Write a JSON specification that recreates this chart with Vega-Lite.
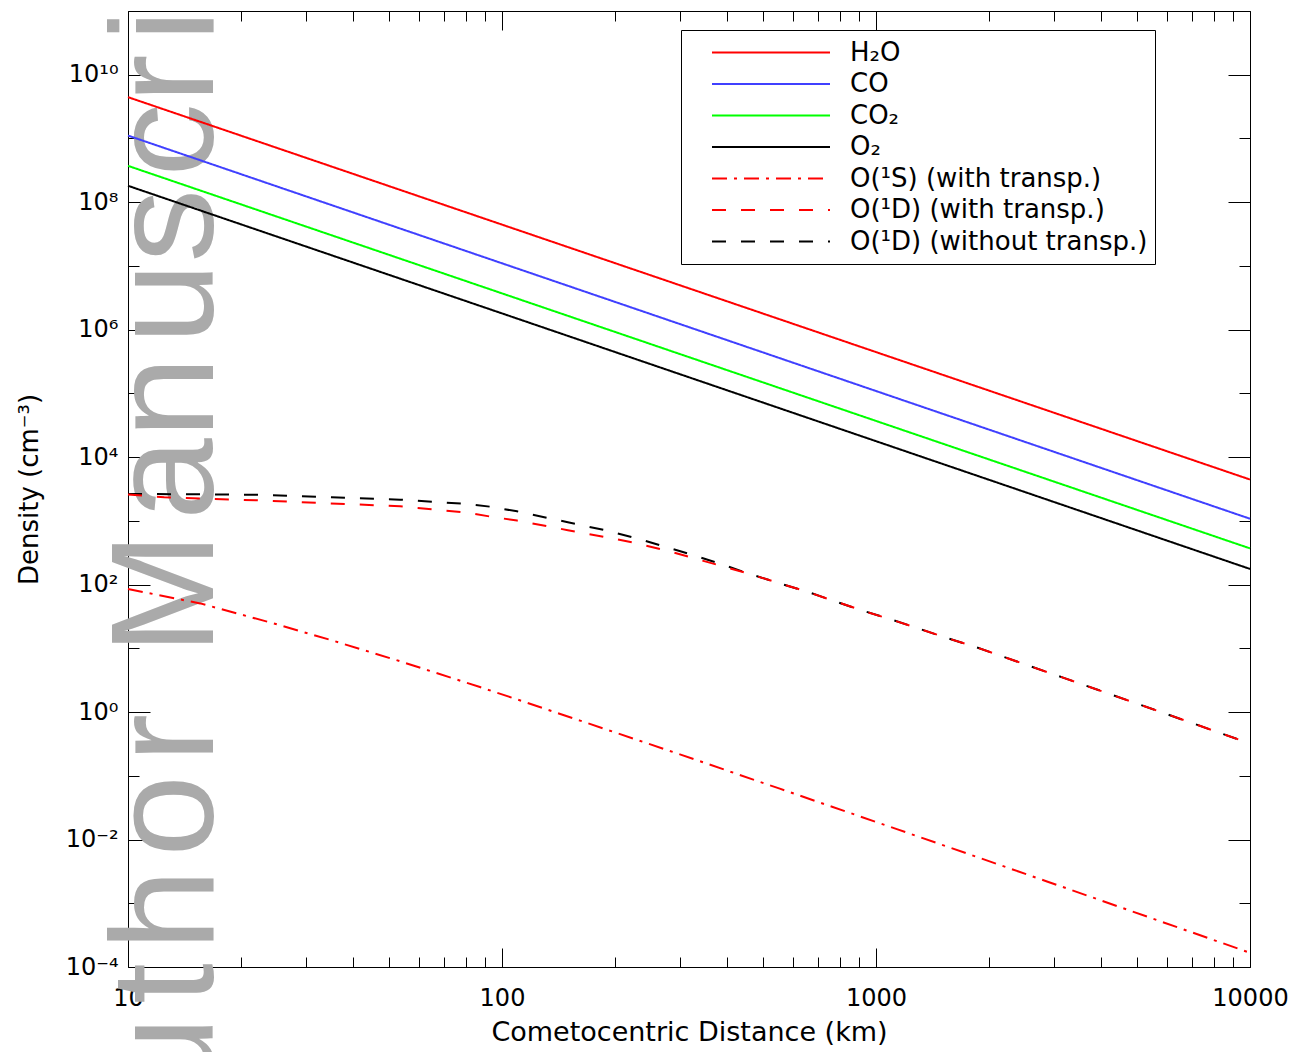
{
  "$schema": "https://vega.github.io/schema/vega-lite/v6.json",
  "width": 1122,
  "height": 956,
  "padding": {"left": 128, "top": 11, "right": 58, "bottom": 85},
  "autosize": {"type": "none"},
  "background": "white",
  "config": {
    "view": {"stroke": null},
    "font": "DejaVu Sans",
    "axis": {
      "grid": false,
      "domainColor": "black",
      "domainWidth": 1,
      "tickColor": "black",
      "tickWidth": 1,
      "labelColor": "black",
      "titleColor": "black",
      "labelFont": "DejaVu Sans",
      "titleFont": "DejaVu Sans",
      "titleFontWeight": "normal",
      "labelFontSize": 24,
      "labelFlush": false,
      "labelOverlap": false,
      "labelBound": false
    }
  },
  "resolve": {"axis": {"x": "independent", "y": "independent"}},
  "data": {
    "values": [
      {"r": 10, "n": 4.45e9, "s": "H₂O"},
      {"r": 100, "n": 4.45e7, "s": "H₂O"},
      {"r": 1000, "n": 4.45e5, "s": "H₂O"},
      {"r": 10000, "n": 4.45e3, "s": "H₂O"},
      {"r": 10, "n": 1.11e9, "s": "CO"},
      {"r": 100, "n": 1.1e7, "s": "CO"},
      {"r": 1000, "n": 1.09e5, "s": "CO"},
      {"r": 10000, "n": 1.08e3, "s": "CO"},
      {"r": 10, "n": 3.72e8, "s": "CO₂"},
      {"r": 100, "n": 3.71e6, "s": "CO₂"},
      {"r": 1000, "n": 3.7e4, "s": "CO₂"},
      {"r": 10000, "n": 3.7e2, "s": "CO₂"},
      {"r": 10, "n": 1.81e8, "s": "O₂"},
      {"r": 100, "n": 1.8e6, "s": "O₂"},
      {"r": 1000, "n": 1.78e4, "s": "O₂"},
      {"r": 10000, "n": 1.76e2, "s": "O₂"},
      {"r": 10, "n": 2640, "s": "O(¹D) (without transp.)"},
      {"r": 15, "n": 2620, "s": "O(¹D) (without transp.)"},
      {"r": 23.5, "n": 2550, "s": "O(¹D) (without transp.)"},
      {"r": 35, "n": 2355, "s": "O(¹D) (without transp.)"},
      {"r": 53.4, "n": 2150, "s": "O(¹D) (without transp.)"},
      {"r": 80.5, "n": 1840, "s": "O(¹D) (without transp.)"},
      {"r": 92.9, "n": 1670, "s": "O(¹D) (without transp.)"},
      {"r": 109.7, "n": 1410, "s": "O(¹D) (without transp.)"},
      {"r": 150, "n": 951, "s": "O(¹D) (without transp.)"},
      {"r": 190.9, "n": 702, "s": "O(¹D) (without transp.)"},
      {"r": 229.6, "n": 531, "s": "O(¹D) (without transp.)"},
      {"r": 276, "n": 384, "s": "O(¹D) (without transp.)"},
      {"r": 324, "n": 292, "s": "O(¹D) (without transp.)"},
      {"r": 390, "n": 205, "s": "O(¹D) (without transp.)"},
      {"r": 460, "n": 146.6, "s": "O(¹D) (without transp.)"},
      {"r": 553, "n": 104.4, "s": "O(¹D) (without transp.)"},
      {"r": 654, "n": 77.4, "s": "O(¹D) (without transp.)"},
      {"r": 768, "n": 55.9, "s": "O(¹D) (without transp.)"},
      {"r": 923, "n": 38.9, "s": "O(¹D) (without transp.)"},
      {"r": 1110, "n": 27.8, "s": "O(¹D) (without transp.)"},
      {"r": 1311, "n": 20.1, "s": "O(¹D) (without transp.)"},
      {"r": 1549, "n": 14.5, "s": "O(¹D) (without transp.)"},
      {"r": 1862, "n": 10.3, "s": "O(¹D) (without transp.)"},
      {"r": 3162, "n": 3.47, "s": "O(¹D) (without transp.)"},
      {"r": 5000, "n": 1.35, "s": "O(¹D) (without transp.)"},
      {"r": 10000, "n": 0.321, "s": "O(¹D) (without transp.)"},
      {"r": 10, "n": 2600, "s": "O(¹D) (with transp.)"},
      {"r": 12.5, "n": 2340, "s": "O(¹D) (with transp.)"},
      {"r": 23.5, "n": 2075, "s": "O(¹D) (with transp.)"},
      {"r": 53.4, "n": 1690, "s": "O(¹D) (with transp.)"},
      {"r": 80.5, "n": 1350, "s": "O(¹D) (with transp.)"},
      {"r": 92.9, "n": 1170, "s": "O(¹D) (with transp.)"},
      {"r": 109.7, "n": 1010, "s": "O(¹D) (with transp.)"},
      {"r": 150, "n": 715, "s": "O(¹D) (with transp.)"},
      {"r": 190.9, "n": 551, "s": "O(¹D) (with transp.)"},
      {"r": 229.6, "n": 443, "s": "O(¹D) (with transp.)"},
      {"r": 276, "n": 340, "s": "O(¹D) (with transp.)"},
      {"r": 324, "n": 262, "s": "O(¹D) (with transp.)"},
      {"r": 390, "n": 193, "s": "O(¹D) (with transp.)"},
      {"r": 460, "n": 146.6, "s": "O(¹D) (with transp.)"},
      {"r": 553, "n": 104.4, "s": "O(¹D) (with transp.)"},
      {"r": 654, "n": 77.4, "s": "O(¹D) (with transp.)"},
      {"r": 768, "n": 55.9, "s": "O(¹D) (with transp.)"},
      {"r": 923, "n": 38.9, "s": "O(¹D) (with transp.)"},
      {"r": 1110, "n": 27.8, "s": "O(¹D) (with transp.)"},
      {"r": 1311, "n": 20.1, "s": "O(¹D) (with transp.)"},
      {"r": 1549, "n": 14.5, "s": "O(¹D) (with transp.)"},
      {"r": 1862, "n": 10.3, "s": "O(¹D) (with transp.)"},
      {"r": 3162, "n": 3.47, "s": "O(¹D) (with transp.)"},
      {"r": 5000, "n": 1.35, "s": "O(¹D) (with transp.)"},
      {"r": 10000, "n": 0.321, "s": "O(¹D) (with transp.)"},
      {"r": 10, "n": 85.3, "s": "O(¹S) (with transp.)"},
      {"r": 15.6, "n": 50.7, "s": "O(¹S) (with transp.)"},
      {"r": 24.4, "n": 24.8, "s": "O(¹S) (with transp.)"},
      {"r": 35.3, "n": 13.2, "s": "O(¹S) (with transp.)"},
      {"r": 53.4, "n": 6.27, "s": "O(¹S) (with transp.)"},
      {"r": 87.3, "n": 2.47, "s": "O(¹S) (with transp.)"},
      {"r": 109.7, "n": 1.58, "s": "O(¹S) (with transp.)"},
      {"r": 161.7, "n": 0.735, "s": "O(¹S) (with transp.)"},
      {"r": 299, "n": 0.217, "s": "O(¹S) (with transp.)"},
      {"r": 553, "n": 0.0628, "s": "O(¹S) (with transp.)"},
      {"r": 1137, "n": 0.01456, "s": "O(¹S) (with transp.)"},
      {"r": 1897, "n": 0.00513, "s": "O(¹S) (with transp.)"},
      {"r": 2865, "n": 0.0022, "s": "O(¹S) (with transp.)"},
      {"r": 5305, "n": 0.000618, "s": "O(¹S) (with transp.)"},
      {"r": 10000, "n": 0.000167, "s": "O(¹S) (with transp.)"}
    ]
  },
  "layer": [
    {
      "data": {"values": [{"w": "A\u200au\u200at\u200ah\u200ao\u200ar", "x": 16.87, "y": 0.94}]},
      "mark": {"type": "text", "angle": 270, "fontSize": 147, "font": "Liberation Sans", "color": "#aaaaaa", "baseline": "alphabetic", "align": "right"},
      "encoding": {
        "x": {"field": "x", "type": "quantitative", "scale": {"type": "log", "domain": [10, 10000], "nice": false}, "axis": null},
        "y": {"field": "y", "type": "quantitative", "scale": {"type": "log", "domain": [0.0001, 100000000000], "nice": false}, "axis": null},
        "text": {"field": "w"}
      }
    },
    {
      "data": {"values": [{"w": "M\u200aan\u200aus\u200acr\u200aipt", "x": 16.87, "y": 7.94}]},
      "mark": {"type": "text", "angle": 270, "fontSize": 147, "font": "Liberation Sans", "color": "#aaaaaa", "baseline": "alphabetic", "align": "left"},
      "encoding": {
        "x": {"field": "x", "type": "quantitative", "scale": {"type": "log", "domain": [10, 10000], "nice": false}, "axis": null},
        "y": {"field": "y", "type": "quantitative", "scale": {"type": "log", "domain": [0.0001, 100000000000], "nice": false}, "axis": null},
        "text": {"field": "w"}
      }
    },
    {
      "mark": {"type": "line", "strokeWidth": 2},
      "encoding": {
        "x": {
          "field": "r", "type": "quantitative",
          "scale": {"type": "log", "domain": [10, 10000], "nice": false},
          "axis": {
            "orient": "bottom",
            "values": [10, 20, 30, 40, 50, 60, 70, 80, 90, 100, 200, 300, 400, 500, 600, 700, 800, 900, 1000, 2000, 3000, 4000, 5000, 6000, 7000, 8000, 9000, 10000],
            "labelExpr": "indexof([10, 100, 1000, 10000], datum.value) >= 0 ? '' + datum.value : ''",
            "tickSize": {"condition": {"test": "indexof([10, 100, 1000, 10000], datum.value) >= 0", "value": -19}, "value": -10},
            "labelPadding": 38,
            "title": "Cometocentric Distance (km)",
            "titleFontSize": 27,
            "titlePadding": 0
          }
        },
        "y": {
          "field": "n", "type": "quantitative",
          "scale": {"type": "log", "domain": [0.0001, 100000000000], "nice": false},
          "axis": {
            "orient": "left",
            "values": [0.0001, 0.001, 0.01, 0.1, 1, 10, 100, 1000, 10000, 100000, 1000000, 10000000, 100000000, 1000000000, 10000000000, 100000000000],
            "labelExpr": "datum.value == 10000000000 ? '10¹⁰' : datum.value == 100000000 ? '10⁸' : datum.value == 1000000 ? '10⁶' : datum.value == 10000 ? '10⁴' : datum.value == 100 ? '10²' : datum.value == 1 ? '10⁰' : datum.value == 0.01 ? '10⁻²' : datum.value == 0.0001 ? '10⁻⁴' : ''",
            "tickSize": {"condition": {"test": "round(log(datum.value) / LN10) % 2 == 0", "value": -22}, "value": -11},
            "labelPadding": 32,
            "title": "Density (cm⁻³)",
            "titleFontSize": 26,
            "titlePadding": 23
          }
        },
        "color": {
          "field": "s", "type": "nominal",
          "scale": {
            "domain": ["H₂O", "CO", "CO₂", "O₂", "O(¹S) (with transp.)", "O(¹D) (with transp.)", "O(¹D) (without transp.)"],
            "range": ["#ff0000", "#4040ff", "#00ff00", "#000000", "#ff0000", "#ff0000", "#000000"]
          },
          "legend": {
            "orient": "none", "legendX": 553, "legendY": 19, "title": null,
            "symbolType": "stroke", "symbolSize": 13924, "symbolStrokeWidth": 2,
            "labelFont": "DejaVu Sans", "labelFontSize": 26, "labelColor": "black", "labelLimit": 0,
            "strokeColor": "black", "fillColor": "white", "padding": 7, "rowPadding": 0.5,
            "clipHeight": 31, "symbolOffset": 23, "labelOffset": 19
          }
        },
        "strokeDash": {
          "field": "s", "type": "nominal",
          "scale": {
            "domain": ["H₂O", "CO", "CO₂", "O₂", "O(¹S) (with transp.)", "O(¹D) (with transp.)", "O(¹D) (without transp.)"],
            "range": [[1, 0], [1, 0], [1, 0], [1, 0], [15, 7, 3, 7], [14, 15], [14, 15]]
          },
          "legend": {
            "orient": "none", "legendX": 553, "legendY": 19, "title": null,
            "symbolType": "stroke", "symbolSize": 13924, "symbolStrokeWidth": 2,
            "labelFont": "DejaVu Sans", "labelFontSize": 26, "labelColor": "black", "labelLimit": 0,
            "strokeColor": "black", "fillColor": "white", "padding": 7, "rowPadding": 0.5,
            "clipHeight": 31, "symbolOffset": 23, "labelOffset": 19
          }
        }
      }
    },
    {
      "mark": {"type": "point", "opacity": 0},
      "encoding": {
        "x": {
          "field": "r", "type": "quantitative",
          "scale": {"type": "log", "domain": [10, 10000], "nice": false},
          "axis": {
            "orient": "top", "labels": false, "title": null,
            "values": [10, 20, 30, 40, 50, 60, 70, 80, 90, 100, 200, 300, 400, 500, 600, 700, 800, 900, 1000, 2000, 3000, 4000, 5000, 6000, 7000, 8000, 9000, 10000],
            "tickSize": {"condition": {"test": "indexof([10, 100, 1000, 10000], datum.value) >= 0", "value": -19}, "value": -10}
          }
        },
        "y": {
          "field": "n", "type": "quantitative",
          "scale": {"type": "log", "domain": [0.0001, 100000000000], "nice": false},
          "axis": {
            "orient": "right", "labels": false, "title": null,
            "values": [0.0001, 0.001, 0.01, 0.1, 1, 10, 100, 1000, 10000, 100000, 1000000, 10000000, 100000000, 1000000000, 10000000000, 100000000000],
            "tickSize": {"condition": {"test": "round(log(datum.value) / LN10) % 2 == 0", "value": -22}, "value": -11}
          }
        }
      }
    }
  ]
}
